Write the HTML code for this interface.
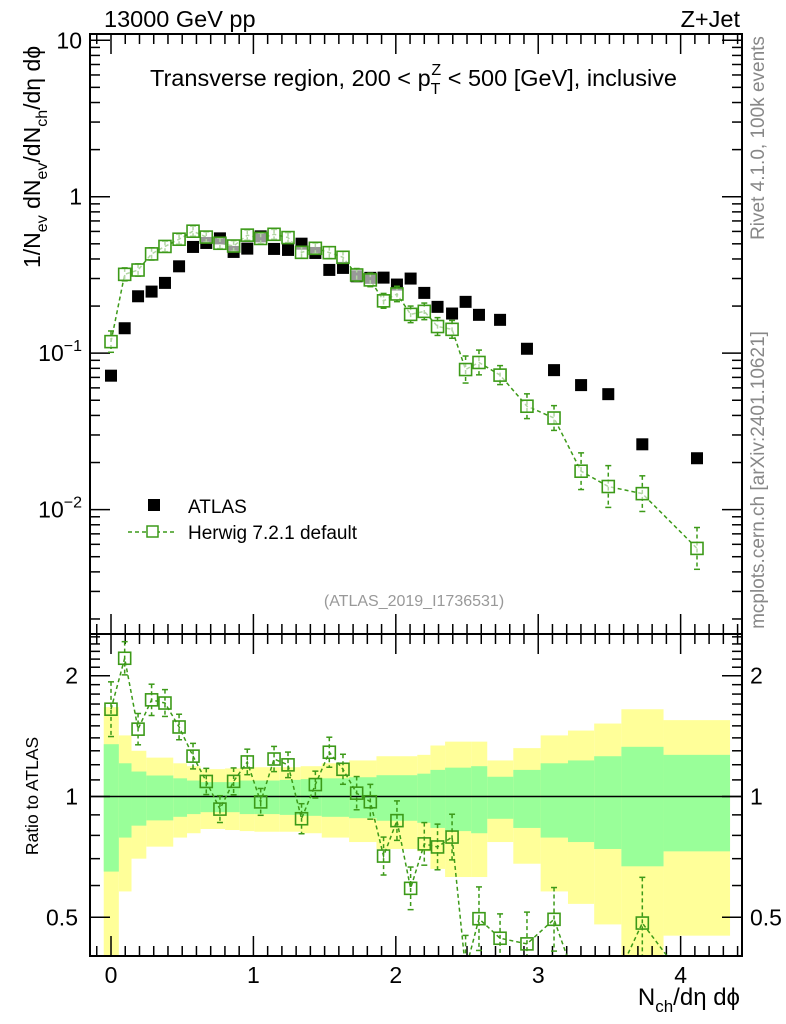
<!DOCTYPE html>
<html><head><meta charset="utf-8">
<style>
html,body{margin:0;padding:0;background:#fff;}
svg{display:block;font-family:"Liberation Sans",sans-serif;}
</style></head>
<body>
<svg id="chart" width="786" height="1024" viewBox="0 0 786 1024" xmlns="http://www.w3.org/2000/svg">
<g id="bands"></g>
<g id="ticks"></g>
<g id="series"></g>
<rect x="90" y="34" width="652" height="600" fill="none" stroke="#000" stroke-width="2"/>
<rect x="90" y="634" width="652" height="322" fill="none" stroke="#000" stroke-width="2"/>
<text x="104" y="27" font-size="23.5">13000 GeV pp</text>
<text x="740" y="27" font-size="23.5" text-anchor="end">Z+Jet</text>
<text x="150" y="86" font-size="23.5">Transverse region, 200 &lt; p<tspan font-size="16" dy="8">T</tspan><tspan font-size="16" dx="-9" dy="-19">Z</tspan><tspan dy="11"> &lt; 500 [GeV], inclusive</tspan></text>
<text transform="translate(40,268) rotate(-90)" font-size="23" text-anchor="start">1/N<tspan font-size="16" dy="7">ev</tspan><tspan dy="-7"> dN</tspan><tspan font-size="16" dy="7">ev</tspan><tspan dy="-7">/dN</tspan><tspan font-size="16" dy="7">ch</tspan><tspan dy="-7">/dη dϕ</tspan></text>
<text transform="translate(38,796) rotate(-90)" font-size="17.5" text-anchor="middle">Ratio to ATLAS</text>
<text x="740" y="1005" font-size="24" text-anchor="end">N<tspan font-size="17" dy="7">ch</tspan><tspan dy="-7">/dη dϕ</tspan></text>
<text transform="translate(764,138) rotate(-90)" font-size="19" fill="#888" text-anchor="middle">Rivet 4.1.0,  100k events</text>
<text transform="translate(764,480) rotate(-90)" font-size="19" fill="#888" text-anchor="middle">mcplots.cern.ch [arXiv:2401.10621]</text>
<text x="414" y="606" font-size="16" fill="#999" text-anchor="middle">(ATLAS_2019_I1736531)</text>
<g>
<rect x="148" y="499" width="12" height="12" fill="#000"/>
<text x="188" y="513" font-size="19">ATLAS</text>
<line x1="128" y1="532" x2="174" y2="532" stroke="#3c9a18" stroke-width="1.5" stroke-dasharray="4,3"/>
<rect x="147" y="526" width="11" height="11" fill="#fff" stroke="#3c9a18" stroke-width="1.5"/>
<text x="188" y="539" font-size="19">Herwig 7.2.1 default</text>
</g>
</svg>
<script>
// ---- data ----
const xCenters = [0.0,0.096,0.19,0.285,0.379,0.478,0.576,0.669,0.765,0.861,0.957,1.051,1.145,1.243,1.338,1.435,1.533,1.629,1.725,1.821,1.914,2.008,2.104,2.2,2.293,2.395,2.49,2.584,2.732,2.921,3.111,3.301,3.492,3.731,4.115];
const atlasValues = [0.0718,0.1443,0.231,0.2475,0.2813,0.359,0.4775,0.5063,0.5418,0.4437,0.4658,0.558,0.4637,0.457,0.501,0.437,0.3405,0.3507,0.310,0.303,0.304,0.2745,0.2998,0.2428,0.1977,0.1792,0.2128,0.1758,0.1633,0.1067,0.0779,0.0625,0.0547,0.02615,0.0213];
const herwigValues = [0.1185,0.319,0.340,0.431,0.481,0.535,0.602,0.552,0.504,0.484,0.568,0.541,0.575,0.548,0.441,0.468,0.439,0.410,0.316,0.294,0.216,0.239,0.177,0.185,0.148,0.142,0.0786,0.0872,0.0724,0.0458,0.0385,0.0176,0.01405,0.01265,0.00565];
const herwigRelErr = [0.17,0.10,0.094,0.094,0.08,0.076,0.076,0.078,0.08,0.08,0.076,0.08,0.075,0.076,0.09,0.08,0.09,0.09,0.10,0.105,0.115,0.12,0.13,0.13,0.14,0.14,0.22,0.20,0.15,0.20,0.20,0.31,0.36,0.30,0.36];
const bandEdges = [-0.051,0.055,0.144,0.248,0.437,0.534,0.629,0.801,0.904,1.007,1.185,1.332,1.480,1.672,1.864,2.151,2.243,2.346,2.529,2.642,2.825,3.017,3.209,3.393,3.584,3.88,4.347];
const greenSigma = [0.35,0.21,0.154,0.128,0.11,0.096,0.086,0.086,0.096,0.096,0.10,0.105,0.11,0.117,0.13,0.14,0.165,0.18,0.19,0.12,0.165,0.21,0.23,0.26,0.33,0.27];
const yellowSigma = [0.67,0.42,0.30,0.25,0.21,0.19,0.17,0.175,0.18,0.183,0.183,0.19,0.21,0.23,0.26,0.27,0.34,0.37,0.37,0.23,0.32,0.42,0.46,0.52,0.65,0.55];
const xTickLabels = ["0","1","2","3","4"];
const mainYTickLabels = ["10","1","10⁻¹","10⁻²"];
const ratioYTickLabels = ["2","1","0.5"];

// ---- axes ----
const PL=90, PR=742, MT=34, MB=634, RT=634, RB=956;
const XMIN=-0.1475, XMAX=4.431;
function X(v){return PL+(v-XMIN)/(XMAX-XMIN)*(PR-PL);}
const YLMAX=1.04, YLMIN=-2.795;
function Y(v){return MT+(YLMAX-Math.log10(v))/(YLMAX-YLMIN)*(MB-MT);}
const RLMAX=0.405, RLMIN=-0.3975;
function R(v){return RT+(RLMAX-Math.log10(v))/(RLMAX-RLMIN)*(RB-RT);}
function Rc(v){return Math.min(RB+40,Math.max(RT-40,R(Math.max(v,0.01))));}

const NS="http://www.w3.org/2000/svg";
function mk(parent,tag,attrs){const e=document.createElementNS(NS,tag);for(const k in attrs)e.setAttribute(k,attrs[k]);parent.appendChild(e);return e;}
const GREEN="#3c9a18";

const defs=mk(document.getElementById('chart'),'defs',{});
const cp=mk(defs,'clipPath',{id:'rclip'});
mk(cp,'rect',{x:PL,y:RT,width:PR-PL,height:RB-RT});
const cpm=mk(defs,'clipPath',{id:'mclip'});
mk(cpm,'rect',{x:PL,y:MT,width:PR-PL,height:MB-MT});

// bands
const bands=document.getElementById('bands');
bands.setAttribute('clip-path','url(#rclip)');
for(let i=0;i<greenSigma.length;i++){
  const x1=X(bandEdges[i]),x2=X(bandEdges[i+1]);
  const y=mk(bands,'rect',{x:x1,y:Rc(1+yellowSigma[i]),width:x2-x1,height:Rc(1-yellowSigma[i])-Rc(1+yellowSigma[i]),fill:'#ffff99'});
  
  
}
for(let i=0;i<greenSigma.length;i++){
  const x1=X(bandEdges[i]),x2=X(bandEdges[i+1]);
  const g=mk(bands,'rect',{x:x1,y:Rc(1+greenSigma[i]),width:x2-x1,height:Rc(1-greenSigma[i])-Rc(1+greenSigma[i]),fill:'#99ff99'});
  
  
}
const one=mk(bands,'line',{x1:PL,x2:PR,y1:R(1),y2:R(1),stroke:'#000','stroke-width':1.5});



// ticks
const tk=document.getElementById('ticks');
function ln(x1,y1,x2,y2){mk(tk,'line',{x1,y1,x2,y2,stroke:'#000','stroke-width':1.5});}
for(let i=-1;i<=44;i++){
  const v=i/10; if(v<XMIN||v>XMAX) continue;
  const x=X(v); const major=(i%10===0); const L=major?20:10;
  ln(x,MB,x,MB-L); ln(x,MT,x,MT+L); ln(x,RB,x,RB-L); ln(x,RT,x,RT+L);
}
xTickLabels.forEach((t,i)=>{
  const e=mk(tk,'text',{x:X(i),y:RB+27,'font-size':23,'text-anchor':'middle'});
  e.textContent=t;
  
  
});
for(let d=-3;d<=1;d++){
  for(let m=1;m<=9;m++){
    const v=m*Math.pow(10,d); const lv=Math.log10(v);
    if(lv<YLMIN||lv>YLMAX) continue;
    const y=Y(v); const L=m===1?20:10;
    ln(PL,y,PL+L,y); ln(PR,y,PR-L,y);
  }
}
const mainTickVals=[10,1,0.1,0.01];
mainYTickLabels.forEach((t,i)=>{
  const e=mk(tk,'text',{x:PL-8,y:Y(mainTickVals[i])+8,'font-size':23,'text-anchor':'end'});
  if(t.indexOf('⁻')>=0){e.textContent='10';const s=mk(e,'tspan',{'font-size':16,dy:-10});s.textContent=t.slice(2).replace('⁻','−').replace('¹','1').replace('²','2');}
  else e.textContent=t;
  
  
});
for(let k=4;k<=25;k++){
  const vv=k/10; const lv=Math.log10(vv);
  if(lv<RLMIN||lv>RLMAX) continue;
  const y=R(vv); const major=(k===5||k===10||k===20); const L=major?20:10;
  ln(PL,y,PL+L,y); ln(PR,y,PR-L,y);
}
const ratioTickVals=[2,1,0.5];
ratioYTickLabels.forEach((t,i)=>{
  const y=R(ratioTickVals[i])+8;
  const a=mk(tk,'text',{x:PL-12,y,'font-size':23,'text-anchor':'end'});a.textContent=t;
  
  
  const b=mk(tk,'text',{x:PR+8,y,'font-size':23});b.textContent=t;
  
  
});

// series
const S=document.getElementById('series');
const gm=mk(S,'g',{'clip-path':'url(#mclip)'});
const gr=mk(S,'g',{'clip-path':'url(#rclip)'});
let pts=xCenters.map((x,i)=>X(x)+','+Y(herwigValues[i])).join(' ');
const hl=mk(gm,'polyline',{points:pts,fill:'none',stroke:GREEN,'stroke-width':1.5,'stroke-dasharray':'4,3'});


const ratios=herwigValues.map((h,i)=>h/atlasValues[i]);
pts=xCenters.map((x,i)=>X(x)+','+Rc(ratios[i])).join(' ');
const rl=mk(gr,'polyline',{points:pts,fill:'none',stroke:GREEN,'stroke-width':1.5,'stroke-dasharray':'4,3'});



function errbar(g,x,yc,yu,yd){
  mk(g,'line',{x1:x,x2:x,y1:yu,y2:yd,stroke:GREEN,'stroke-width':1.5,'stroke-dasharray':'4,3'});
  mk(g,'line',{x1:x-3,x2:x+3,y1:yu,y2:yu,stroke:GREEN,'stroke-width':1.5});
  mk(g,'line',{x1:x-3,x2:x+3,y1:yd,y2:yd,stroke:GREEN,'stroke-width':1.5});
}
xCenters.forEach((xv,i)=>{
  const x=X(xv);
  const a=mk(gm,'rect',{x:x-6,y:Y(atlasValues[i])-6,width:12,height:12,fill:'#000'});
  
  
  const f=1+herwigRelErr[i];
  errbar(gm,x,Y(herwigValues[i]),Y(herwigValues[i]*f),Y(herwigValues[i]/f));
  const h=mk(gm,'rect',{x:x-6,y:Y(herwigValues[i])-6,width:12,height:12,fill:'#fff','fill-opacity':0.6,stroke:GREEN,'stroke-width':1.6});
  
  
  const r=ratios[i];
  errbar(gr,x,Rc(r),Rc(r*f),Rc(r/f));
  const rr=mk(gr,'rect',{x:x-6,y:Rc(r)-6,width:12,height:12,fill:'none',stroke:GREEN,'stroke-width':1.6});
  
  
});
</script>
</body></html>
